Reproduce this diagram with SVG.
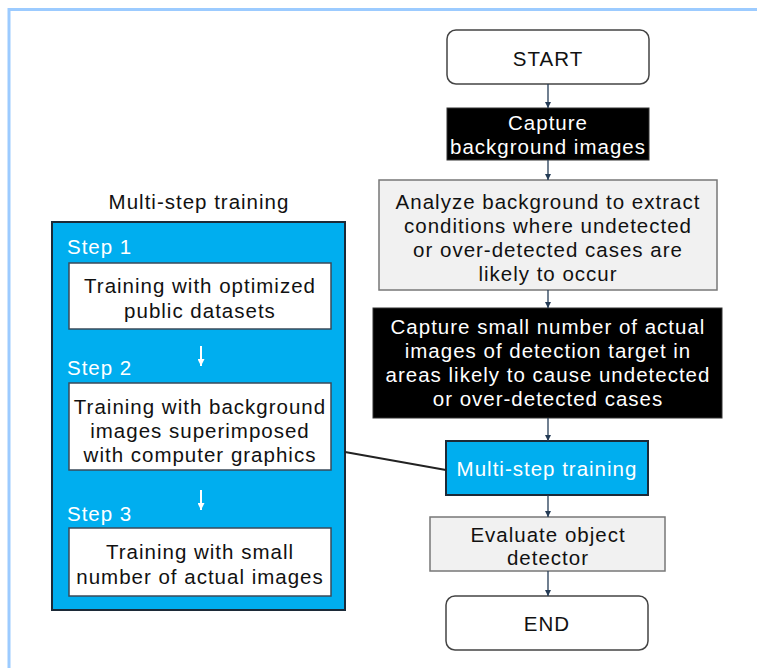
<svg xmlns="http://www.w3.org/2000/svg" width="757" height="668" viewBox="0 0 757 668">
  <defs>
    <marker id="ah" viewBox="0 0 10 10" refX="10" refY="5" markerWidth="6" markerHeight="6" orient="auto" markerUnits="userSpaceOnUse">
      <path d="M0,0 L10,5 L0,10 Z" fill="#243b55"/>
    </marker>
    <marker id="ahw" viewBox="0 0 10 10" refX="10" refY="5" markerWidth="7" markerHeight="7" orient="auto" markerUnits="userSpaceOnUse">
      <path d="M0,0 L10,5 L0,10 Z" fill="#ffffff"/>
    </marker>
    <style>
      text { font-family: "Liberation Sans", "Noto Sans CJK JP", sans-serif; font-size: 20.5px; letter-spacing: 1px; text-anchor: middle; dominant-baseline: central; }
      .dk { fill: #111111; }
      .wt { fill: #ffffff; }
      .lbl { text-anchor: start; }
      .term { fill: #ffffff; stroke: #444444; stroke-width: 1.5; }
      .blk { fill: #000000; stroke: #333333; stroke-width: 1; }
      .gry { fill: #f1f1f1; stroke: #777777; stroke-width: 1.5; }
      .blu { fill: #00aeef; stroke: #1c2a38; stroke-width: 2; }
      .wbox { fill: #ffffff; stroke: #3a4a5a; stroke-width: 1.5; }
      .flow { stroke: #243b55; stroke-width: 1.3; fill: none; marker-end: url(#ah); }
      .step { stroke: #ffffff; stroke-width: 2; fill: none; marker-end: url(#ahw); }
      .link { stroke: #222222; stroke-width: 2; fill: none; }
    </style>
  </defs>

  <!-- frame -->
  <rect x="9" y="9.5" width="760" height="670" fill="#ffffff" stroke="#9ccbff" stroke-width="3"/>

  <!-- multi-step panel -->
  <g id="panel">
    <text class="dk" x="199" y="201">Multi-step training</text>
    <rect class="blu" x="52" y="222" width="293" height="388"/>
  </g>
  <g id="step1">
    <text class="wt lbl" x="67" y="246">Step 1</text>
    <rect class="wbox" x="69" y="263" width="262" height="66"/>
    <text class="dk" x="200" y="285">Training with optimized</text>
    <text class="dk" x="200" y="310">public datasets</text>
  </g>
  <g id="step2">
    <text class="wt lbl" x="67" y="367">Step 2</text>
    <rect class="wbox" x="69" y="383" width="262" height="87"/>
    <text class="dk" x="200" y="406">Training with background</text>
    <text class="dk" x="200" y="430">images superimposed</text>
    <text class="dk" x="200" y="454">with computer graphics</text>
  </g>
  <g id="step3">
    <text class="wt lbl" x="67" y="513">Step 3</text>
    <rect class="wbox" x="69" y="528" width="262" height="68"/>
    <text class="dk" x="200" y="551">Training with small</text>
    <text class="dk" x="200" y="576">number of actual images</text>
  </g>

  <!-- flow nodes -->
  <g id="start">
    <rect class="term" x="447" y="30" width="202" height="54" rx="9"/>
    <text class="dk" x="548" y="58">START</text>
  </g>
  <g id="capture-bg">
    <rect class="blk" x="447" y="108" width="202" height="52"/>
    <text class="wt" x="548" y="122">Capture</text>
    <text class="wt" x="548" y="146">background images</text>
  </g>
  <g id="analyze">
    <rect class="gry" x="379" y="180" width="338" height="110"/>
    <text class="dk" x="548" y="201">Analyze background to extract</text>
    <text class="dk" x="548" y="225">conditions where undetected</text>
    <text class="dk" x="548" y="249">or over-detected cases are</text>
    <text class="dk" x="548" y="273">likely to occur</text>
  </g>
  <g id="capture-target">
    <rect class="blk" x="373" y="308" width="349" height="110"/>
    <text class="wt" x="548" y="326">Capture small number of actual</text>
    <text class="wt" x="548" y="350">images of detection target in</text>
    <text class="wt" x="548" y="374">areas likely to cause undetected</text>
    <text class="wt" x="548" y="398">or over-detected cases</text>
  </g>
  <g id="training">
    <rect class="blu" x="446" y="441" width="202" height="54"/>
    <text class="wt" x="547" y="468">Multi-step training</text>
  </g>
  <g id="evaluate">
    <rect class="gry" x="430" y="517" width="235" height="54"/>
    <text class="dk" x="548" y="534">Evaluate object</text>
    <text class="dk" x="548" y="557">detector</text>
  </g>
  <g id="end">
    <rect class="term" x="446" y="596" width="202" height="54" rx="9"/>
    <text class="dk" x="547" y="623">END</text>
  </g>

  <!-- connectors -->
  <g id="connectors">
    <line class="flow" x1="548" y1="84" x2="548" y2="108"/>
    <line class="flow" x1="548" y1="160" x2="548" y2="180"/>
    <line class="flow" x1="548" y1="290" x2="548" y2="308"/>
    <line class="flow" x1="548" y1="418" x2="548" y2="441"/>
    <line class="flow" x1="548" y1="495" x2="548" y2="517"/>
    <line class="flow" x1="548" y1="571" x2="548" y2="596"/>
    <line class="link" x1="345" y1="452" x2="446" y2="470"/>
    <line class="step" x1="201" y1="346" x2="201" y2="366"/>
    <line class="step" x1="201" y1="490" x2="201" y2="510"/>
  </g>
</svg>
